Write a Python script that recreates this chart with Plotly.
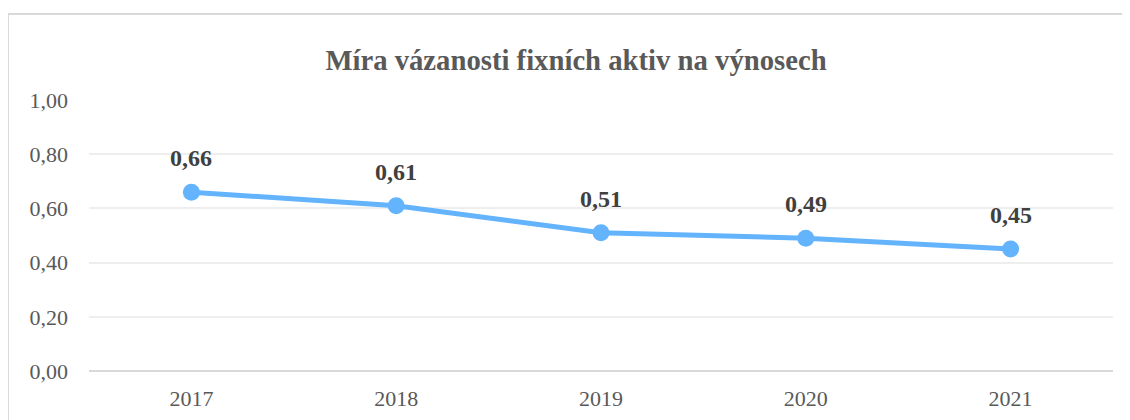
import plotly.graph_objects as go

years = ["2017", "2018", "2019", "2020", "2021"]
values = [0.66, 0.61, 0.51, 0.49, 0.45]
labels = ["0,66", "0,61", "0,51", "0,49", "0,45"]
tick_vals = [0, 0.2, 0.4, 0.6, 0.8, 1.0]
tick_text = ["0,00", "0,20", "0,40", "0,60", "0,80", "1,00"]
title = "Míra vázanosti fixních aktiv na výnosech"

serif = "Liberation Serif, Times New Roman, serif"
line_color = "#64B3FD"

fig = go.Figure()
fig.add_trace(go.Scatter(
    x=years, y=values,
    mode="lines+markers",
    line=dict(color=line_color, width=5),
    marker=dict(color=line_color, size=17),
    cliponaxis=False,
    hoverinfo="skip",
))

for i, (v, lb) in enumerate(zip(values, labels)):
    fig.add_annotation(
        x=i, y=v, xref="x", yref="y", text="<b>" + lb + "</b>",
        showarrow=False, yanchor="middle", xanchor="center", yshift=34,
        font=dict(family=serif, size=24, color="#404040"),
    )

fig.update_layout(
    width=1130, height=420,
    margin=dict(l=81, r=25, t=92, b=57),
    paper_bgcolor="white", plot_bgcolor="white",
    showlegend=False,
    title=dict(
        text="<b>" + title + "</b>",
        x=(576 - 8) / 1130, xanchor="center", xref="container",
        y=1 - 52 / 420, yanchor="middle", yref="container",
        font=dict(family=serif, size=28.7, color="#595959"),
    ),
    xaxis=dict(
        type="category", range=[-0.5, 4.5],
        showgrid=False, zeroline=False, showline=False,
        ticks="", tickfont=dict(family=serif, size=22, color="#595959"),
        ticklabelstandoff=12,
    ),
    yaxis=dict(
        range=[0, 1.0], tickvals=tick_vals, ticktext=tick_text,
        showgrid=True, gridcolor="#EEEEEE", gridwidth=2,
        zeroline=False, showline=False, ticks="",
        tickfont=dict(family=serif, size=22, color="#595959"),
        ticklabelstandoff=20,
    ),
    shapes=[
        dict(type="line", xref="paper", yref="paper",
             x0=0, x1=1, y0=0, y1=0,
             line=dict(color="#D9D9D9", width=2), layer="below"),
        dict(type="rect", xref="paper", yref="paper",
             x0=(8 - 89) / 1024, x1=1.05,
             y0=-0.3, y1=1 + (100 - 14) / 271,
             line=dict(color="#D9D9D9", width=2), layer="below"),
    ],
)

fig.write_html("out.html")
